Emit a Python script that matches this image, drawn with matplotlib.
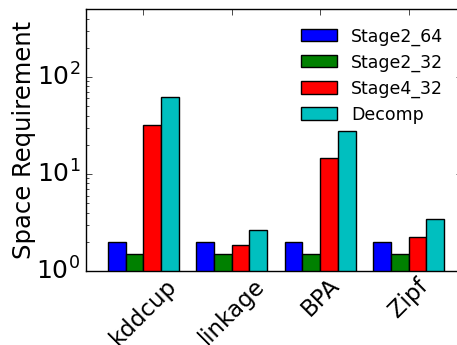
import numpy as np
import matplotlib
matplotlib.use('Agg')
import matplotlib.pyplot as plt

plt.style.use('classic')

datasets = ['kddcup', 'linkage', 'BPA', 'Zipf']
stage2_64 = [2.0, 2.0, 2.0, 2.0]
stage2_32 = [1.5, 1.5, 1.5, 1.5]
stage4_32 = [32, 1.85, 14.5, 2.25]
decomp = [62, 2.65, 28, 3.45]

series = [stage2_64, stage2_32, stage4_32, decomp]
names = ['Stage2_64', 'Stage2_32', 'Stage4_32', 'Decomp']
colors = ['b', 'g', 'r', 'c']

fig = plt.figure(figsize=(4.57, 3.45), dpi=100, facecolor='white')
ax = fig.add_axes([0.188, 0.2145, 0.822, 0.759])

x = np.arange(len(datasets))
w = 0.2
for k in range(4):
    ax.bar(x + k * w, series[k], w, bottom=1e-3, color=colors[k],
           edgecolor='black', linewidth=1, label=names[k], align='edge')

ax.set_yscale('log')
ax.set_ylim(1, 500)
ax.set_xlim(-0.25, 4)
ax.set_xticks(x + 2 * w)
ax.set_xticklabels(datasets, rotation=45, fontsize=16.5)
ax.tick_params(axis='x', pad=2)
ax.tick_params(axis='y', labelsize=18)
ax.set_ylabel('Space Requirement', fontsize=17.5, labelpad=0)
ax.legend(loc='upper right', frameon=False, fontsize=12.5,
          handlelength=2.1, labelspacing=0.45, handletextpad=0.8,
          borderaxespad=0.65)

fig.savefig('out.png', dpi=100, facecolor='white')
